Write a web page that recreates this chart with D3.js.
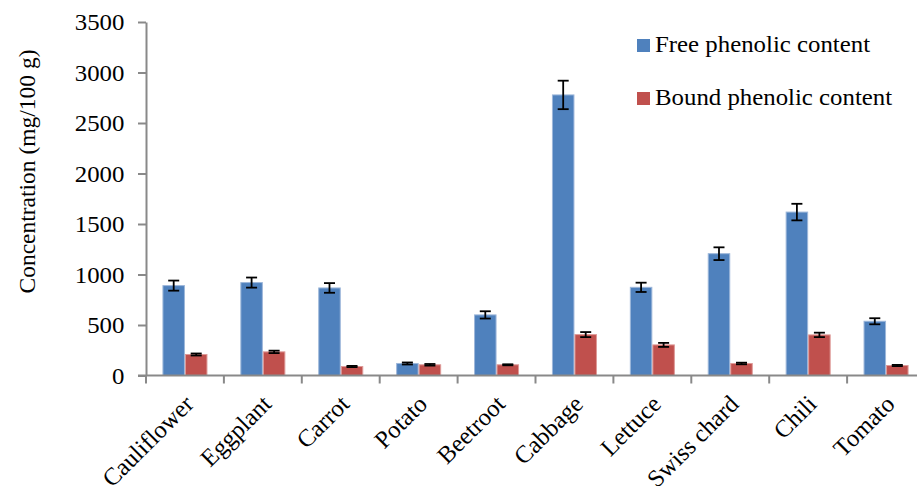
<!DOCTYPE html>
<html>
<head>
<meta charset="utf-8">
<script src="https://cdn.jsdelivr.net/npm/d3@7/dist/d3.min.js"></script>
<style>
  html, body { margin: 0; padding: 0; background: #fff; }
  svg { display: block; }
  svg text { font-family: "Liberation Serif", "Tinos", "Times New Roman", "DejaVu Serif", serif; fill: #000; }
</style>
</head>
<body>
<svg id="chart" width="917" height="486"></svg>
<script>
// Phenolic content of vegetables (mg/100 g), mean ± error
const categories = ["Cauliflower", "Eggplant", "Carrot", "Potato", "Beetroot",
                    "Cabbage", "Lettuce", "Swiss chard", "Chili", "Tomato"];
const seriesNames = ["Free phenolic content", "Bound phenolic content"];
const freeValues  = [890, 920, 867, 119, 600, 2778, 873, 1206, 1618, 537];
const freeErrors  = [50, 50, 48, 10, 36, 141, 46, 63, 82, 30];
const boundValues = [208, 234, 89, 106, 106, 405, 303, 119, 402, 99];
const boundErrors = [10, 12, 6, 8, 5, 25, 20, 8, 22, 6];
const yTicks = [0, 500, 1000, 1500, 2000, 2500, 3000, 3500];

const colors = ["#4F81BD", "#C0504D"];
const edgeColors = ["#9DB7DA", "#DE9A98"];
const axisColor = "#898989";
const textStretch = 1.08;
const serif = '"Liberation Serif", "Tinos", "Times New Roman", "DejaVu Serif", serif';

const svg = d3.select("#chart");
const plotLeft = 146, plotRight = 925, plotTop = 22, plotBottom = 375.5;

const y = d3.scaleLinear().domain([0, 3500]).range([plotBottom, plotTop]);
const x0 = d3.scaleBand().domain(categories).range([plotLeft, plotRight])
  .paddingInner(0.422).paddingOuter(0.211);
const x1 = d3.scaleBand().domain(seriesNames).range([0, x0.bandwidth()]);

const rows = categories.map((c, i) => ({
  category: c,
  values: [
    { series: seriesNames[0], value: freeValues[i], err: freeErrors[i], k: 0 },
    { series: seriesNames[1], value: boundValues[i], err: boundErrors[i], k: 1 }
  ]
}));

// Bars
const groups = svg.append("g").selectAll("g").data(rows).join("g")
  .attr("transform", d => `translate(${x0(d.category)},0)`);

groups.selectAll("rect").data(d => d.values).join("rect")
  .attr("x", d => x1(d.series) + 0.5)
  .attr("width", x1.bandwidth() - 1)
  .attr("y", d => y(d.value))
  .attr("height", d => y(0) - y(d.value))
  .attr("fill", d => colors[d.k])
  .attr("stroke", d => edgeColors[d.k])
  .attr("stroke-width", 1);

// Error bars
const capHalf = 5.5;
const eb = groups.selectAll("g.err").data(d => d.values).join("g")
  .attr("class", "err")
  .attr("stroke", "#000")
  .attr("stroke-width", 1.8);
eb.append("line")
  .attr("x1", d => x1(d.series) + x1.bandwidth() / 2)
  .attr("x2", d => x1(d.series) + x1.bandwidth() / 2)
  .attr("y1", d => y(d.value + d.err))
  .attr("y2", d => y(d.value - d.err));
eb.append("line")
  .attr("x1", d => x1(d.series) + x1.bandwidth() / 2 - capHalf)
  .attr("x2", d => x1(d.series) + x1.bandwidth() / 2 + capHalf)
  .attr("y1", d => y(d.value + d.err))
  .attr("y2", d => y(d.value + d.err));
eb.append("line")
  .attr("x1", d => x1(d.series) + x1.bandwidth() / 2 - capHalf)
  .attr("x2", d => x1(d.series) + x1.bandwidth() / 2 + capHalf)
  .attr("y1", d => y(d.value - d.err))
  .attr("y2", d => y(d.value - d.err));

// Y axis
const yAxis = svg.append("g")
  .attr("transform", `translate(${plotLeft},0)`)
  .call(d3.axisLeft(y).tickValues(yTicks).tickFormat(d3.format("d"))
    .tickSize(8).tickPadding(12).tickSizeOuter(0));
yAxis.attr("font-family", serif);
yAxis.select(".domain").attr("stroke", axisColor).attr("stroke-width", 2);
yAxis.selectAll(".tick line").attr("stroke", axisColor).attr("stroke-width", 2);
yAxis.selectAll(".tick text")
  .attr("font-family", serif)
  .attr("font-size", 23)
  .attr("dy", "0.34em")
  .attr("transform", `scale(${textStretch},1)`);

// X axis: line along baseline with ticks on category boundaries
const xAxis = svg.append("g");
xAxis.append("line")
  .attr("x1", plotLeft - 8).attr("x2", plotRight)
  .attr("y1", y(0)).attr("y2", y(0))
  .attr("stroke", axisColor).attr("stroke-width", 2);
const gap = x0.step() * x0.paddingInner() / 2;
xAxis.selectAll("line.tick").data(categories).join("line")
  .attr("class", "tick")
  .attr("x1", d => x0(d) - gap).attr("x2", d => x0(d) - gap)
  .attr("y1", y(0)).attr("y2", y(0) + 8)
  .attr("stroke", axisColor).attr("stroke-width", 2);

xAxis.selectAll("text").data(categories).join("text")
  .attr("font-family", serif)
  .attr("font-size", 24.5)
  .attr("text-anchor", "end")
  .attr("transform", d => `translate(${x0(d) + x0.bandwidth() / 2 + 10},${y(0) + 30}) rotate(-45)`)
  .text(d => d);

// Y axis title
svg.append("text")
  .attr("font-family", serif)
  .attr("font-size", 23.5)
  .attr("text-anchor", "middle")
  .attr("transform", `translate(35,171.5) rotate(-90)`)
  .text("Concentration (mg/100 g)");

// Legend
const legend = svg.append("g").selectAll("g").data(seriesNames).join("g")
  .attr("transform", (d, i) => `translate(637,${39 + i * 53})`);
legend.append("rect")
  .attr("width", 13).attr("height", 13)
  .attr("fill", (d, i) => colors[i]);
legend.append("text")
  .attr("font-family", serif)
  .attr("font-size", 23)
  .attr("transform", `translate(18,13) scale(${textStretch},1)`)
  .text(d => d);
</script>
</body>
</html>
